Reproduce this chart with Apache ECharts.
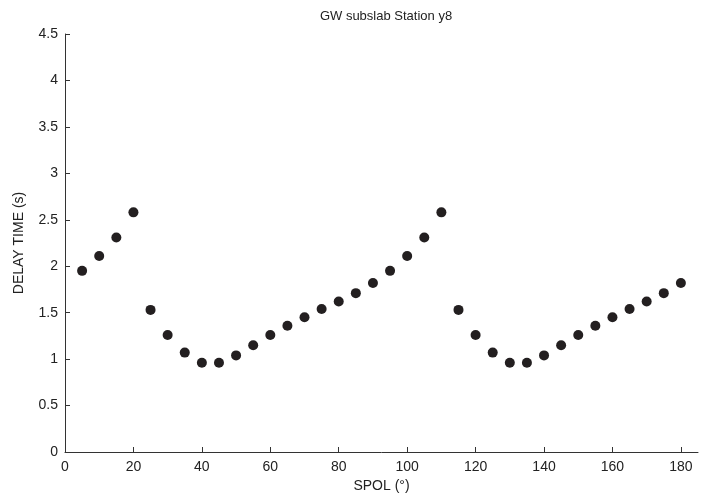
<!DOCTYPE html>
<html>
<head>
<meta charset="utf-8">
<script src="https://cdn.jsdelivr.net/npm/echarts@6/dist/echarts.min.js"></script>
<style>html,body{margin:0;padding:0;background:#fff}#c{width:713px;height:499px}</style>
</head>
<body>
<div id="c"></div>
<script>
const spol = [5,10,15,20,25,30,35,40,45,50,55,60,65,70,75,80,85,90,95,100,105,110,115,120,125,130,135,140,145,150,155,160,165,170,175,180];
const delay = [1.95,2.11,2.31,2.58,1.53,1.26,1.07,0.96,0.96,1.04,1.15,1.26,1.36,1.45,1.54,1.62,1.71,1.82,1.95,2.11,2.31,2.58,1.53,1.26,1.07,0.96,0.96,1.04,1.15,1.26,1.36,1.45,1.54,1.62,1.71,1.82];
const xTicks = [0,20,40,60,80,100,120,140,160,180];
const yTicks = [0,0.5,1,1.5,2,2.5,3,3.5,4,4.5];

const font = 'Helvetica, Arial, "Liberation Sans", sans-serif';
const chart = echarts.init(document.getElementById('c'));
chart.setOption({
  animation: false,
  title: {
    text: 'GW subslab Station y8',
    left: 381, top: 5, textAlign: 'center',
    textStyle: {fontFamily: font, fontSize: 13, fontWeight: 'normal', color: '#222'}
  },
  grid: {left: 65, right: 15, top: 34, bottom: 47},
  xAxis: {
    type: 'value', min: 0, max: 185,
    name: 'SPOL (°)', nameLocation: 'middle', nameGap: 27,
    nameTextStyle: {fontFamily: font, fontSize: 14, color: '#222'},
    axisLine: {lineStyle: {color: '#333', width: 1}},
    axisTick: {inside: true, length: 5, customValues: xTicks, lineStyle: {color: '#333'}},
    axisLabel: {customValues: xTicks, fontFamily: font, fontSize: 14, color: '#222', margin: 8},
    splitLine: {show: false}
  },
  yAxis: {
    type: 'value', min: 0, max: 4.5, interval: 0.5,
    name: 'DELAY TIME (s)', nameLocation: 'middle', nameGap: 39,
    nameTextStyle: {fontFamily: font, fontSize: 14, color: '#222'},
    axisLine: {show: true, lineStyle: {color: '#333', width: 1}},
    axisTick: {show: true, inside: true, length: 5, lineStyle: {color: '#333'}},
    axisLabel: {fontFamily: font, fontSize: 14, color: '#222', margin: 7},
    splitLine: {show: false}
  },
  series: [{
    type: 'scatter',
    data: spol.map((x, i) => [x, delay[i]]),
    symbol: 'circle', symbolSize: 10,
    itemStyle: {color: '#231f20', opacity: 1}
  }]
});
</script>
</body>
</html>
